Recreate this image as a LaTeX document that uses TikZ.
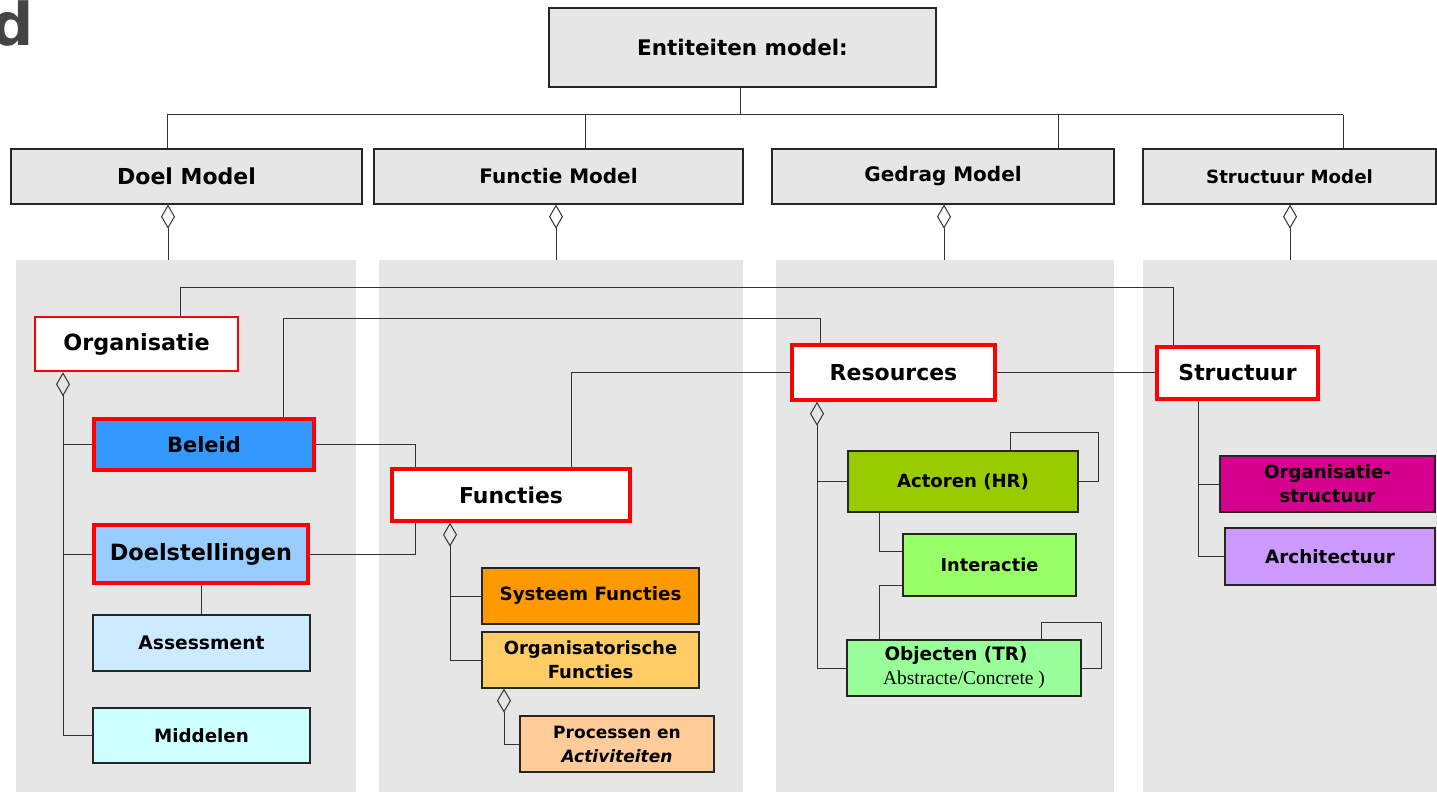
\documentclass[tikz,border=0pt]{standalone}
\usepackage{fontspec}
\setmainfont{DejaVu Sans}
\newfontfamily\tmsfont{Liberation Serif}
\usetikzlibrary{arrows.meta}

\definecolor{hdrgray}{HTML}{E6E6E6}
\definecolor{lanegray}{HTML}{E6E6E6}
\definecolor{titlegray}{HTML}{444444}
\definecolor{linegray}{HTML}{333333}
\definecolor{cBeleid}{HTML}{3399FF}
\definecolor{cDoel}{HTML}{99CCFF}
\definecolor{cAssess}{HTML}{CCEBFF}
\definecolor{cMiddel}{HTML}{CCFFFF}
\definecolor{cSysF}{HTML}{FF9900}
\definecolor{cOrgF}{HTML}{FFCC66}
\definecolor{cProc}{HTML}{FFCC99}
\definecolor{cAct}{HTML}{99CC00}
\definecolor{cInter}{HTML}{99FF66}
\definecolor{cObj}{HTML}{99FF99}
\definecolor{cOrgS}{HTML}{D6008F}
\definecolor{cArch}{HTML}{CC99FF}

\begin{document}
\begin{tikzpicture}[x=1pt,y=-1pt,
  fs/.style={font={\bfseries\fontsize{#1}{#1}\selectfont}},
  ml/.style={font={\bfseries\fontsize{#1}{24}\selectfont}},
  sz/.style 2 args={minimum width=#1pt, minimum height=#2pt},
  lane/.style={rectangle, fill=lanegray, draw=none, inner sep=0pt},
  box/.style={rectangle, draw=black!85, line width=1.3pt, inner sep=0pt, align=center, text=black},
  hdr/.style={box, fill=hdrgray},
  keybox/.style={rectangle, draw=red, line width=3.5pt, inner sep=0pt, align=center, text=black, fill=white},
  conn/.style={draw=linegray, line width=1pt},
  agg/.style={conn, {Diamond[open,length=24pt,width=14pt]}-}
]
\useasboundingbox (0,0) rectangle (1437,794);

% partial heading letter at the left edge
\node[anchor=base east, inner sep=0pt, text=titlegray,
      font={\bfseries\fontsize{59}{59}\selectfont}] (title) at (34,46) {d};

% swim lanes
\node[lane, sz={340}{532}] (lane1) at (186,526) {};
\node[lane, sz={364}{532}] (lane2) at (561,526) {};
\node[lane, sz={338}{532}] (lane3) at (945,526) {};
\node[lane, sz={294}{532}] (lane4) at (1290,526) {};

% top level and model headers
\node[hdr, sz={387}{79}, fs=21.5] (ent) at (742.5,47.5) {Entiteiten model:};
\node[hdr, sz={351}{55}, fs=22] (doel) at (186.5,176.5) {Doel Model};
\node[hdr, sz={369}{55}, fs=20] (func) at (558.5,176.5) {Functie Model};
\node[hdr, sz={342}{55}, fs=20] (gedr) at (943,176.5) {Gedrag Model};
\node[hdr, sz={293}{55}, fs=18.2] (stru) at (1289.5,176.5) {Structuur Model};

% goal model
\node[keybox, line width=2.6pt, sz={203}{54}, fs=22.3] (org) at (136.5,344) {Organisatie};
\node[keybox, fill=cBeleid, sz={220}{51}, fs=21] (bel) at (204,444.5) {Beleid};
\node[keybox, fill=cDoel, sz={214}{58}, fs=22.4] (dst) at (201,554) {Doelstellingen};
\node[box, fill=cAssess, sz={217}{56}, fs=18.7] (ass) at (201.5,643) {Assessment};
\node[box, fill=cMiddel, sz={217}{55}, fs=18.3] (mid) at (201.5,735.5) {Middelen};

% function model
\node[keybox, sz={238}{52}, fs=21.9] (fun) at (511,495) {Functies};
\node[box, fill=cSysF, sz={217}{56}, fs=18.3] (sys) at (590.5,596) {Systeem Functies};
\node[box, fill=cOrgF, sz={217}{56}, ml=18] (orgf) at (590.5,660) {Organisatorische\\Functies};
\node[box, fill=cProc, sz={194}{56}, ml=17] (proc) at (617,744) {Processen en\\\textit{Activiteiten}};

% behaviour model
\node[keybox, sz={203}{55}, fs=22] (res) at (893.5,372.5) {Resources};
\node[box, fill=cAct, sz={230}{61}, fs=18.1] (act) at (963,481.5) {Actoren (HR)};
\node[box, fill=cInter, sz={173}{62}, fs=17.8] (int) at (989.5,565) {Interactie};
\node[box, fill=cObj, sz={234}{56}, ml=18.4] (obj) at (964,668)
  {\hspace*{-16pt}Objecten (TR)\\{\tmsfont\mdseries\fontsize{19.5}{19.5}\selectfont Abstracte/Concrete )}};

% structure model
\node[keybox, sz={161}{52}, fs=21.9] (str) at (1237.5,373) {Structuur};
\node[box, fill=cOrgS, sz={215}{56}, ml=18.2] (orgs) at (1327.5,484) {Organisatie-\\structuur};
\node[box, fill=cArch, sz={210}{57}, fs=18.4] (arch) at (1330,556.5) {Architectuur};

% routing points
\coordinate (bus) at (740,115);
\coordinate (t1) at (167,115);
\coordinate (t2) at (585,115);
\coordinate (t3) at (1058,115);
\coordinate (t4) at (1343,115);
\coordinate (dm1) at (168,0);
\coordinate (dm2) at (556,0);
\coordinate (dm3) at (944,0);
\coordinate (dm4) at (1290,0);
\coordinate (o1) at (63,0);
\coordinate (k1) at (180,288);
\coordinate (k2) at (1173,288);
\coordinate (m1) at (283,318);
\coordinate (m2) at (820,318);
\coordinate (j1) at (415,0);
\coordinate (f1) at (571,0);
\coordinate (g1) at (450,0);
\coordinate (p1) at (504,0);
\coordinate (r1) at (817,0);
\coordinate (la1) at (1010,432);
\coordinate (la2) at (1098,0);
\coordinate (ia) at (879,551);
\coordinate (ib) at (879,585);
\coordinate (lo1) at (1041,622);
\coordinate (lo2) at (1101,0);
\coordinate (s1) at (1198,0);

% top bus
\draw[conn] (ent.south -| bus) -- (bus);
\draw[conn] (t1) -- (t4);
\draw[conn] (t1) -- (doel.north -| t1);
\draw[conn] (t2) -- (func.north -| t2);
\draw[conn] (t3) -- (gedr.north -| t3);
\draw[conn] (t4) -- (stru.north -| t4);

% headers to lanes
\draw[agg] (doel.south -| dm1) -- (lane1.north -| dm1);
\draw[agg] (func.south -| dm2) -- (lane2.north -| dm2);
\draw[agg] (gedr.south -| dm3) -- (lane3.north -| dm3);
\draw[agg] (stru.south -| dm4) -- (lane4.north -| dm4);

% goal model tree
\draw[agg] (org.south -| o1) |- (mid.west);
\draw[conn] (bel.west -| o1) -- (bel.west);
\draw[conn] (dst.west -| o1) -- (dst.west);
\draw[conn] (dst.south) -- (ass.north -| dst.south);

% cross links
\draw[conn] (org.north -| k1) -- (k1) -- (k2) -- (str.north -| k2);
\draw[conn] (bel.north -| m1) -- (m1) -- (m2) -- (res.north -| m2);
\draw[conn] (bel.east) -| (fun.north -| j1);
\draw[conn] (dst.east) -| (fun.south -| j1);
\draw[conn] (fun.north -| f1) |- (res.west);
\draw[conn] (res.east) -- (res.east -| str.west);

% function model tree
\draw[agg] (fun.south -| g1) |- (orgf.west);
\draw[conn] (sys.west -| g1) -- (sys.west);
\draw[agg] (orgf.south -| p1) |- (proc.west);

% behaviour model tree
\draw[agg] (res.south -| r1) |- (obj.west);
\draw[conn] (act.west -| r1) -- (act.west);
\draw[conn] (act.north -| la1) -- (la1) -| (act.east -| la2) -- (act.east);
\draw[conn] (act.south -| ia) -- (ia) -- (int.west |- ia);
\draw[conn] (int.west |- ib) -- (ib) -- (obj.north -| ib);
\draw[conn] (obj.north -| lo1) -- (lo1) -| (obj.east -| lo2) -- (obj.east);

% structure model tree
\draw[conn] (str.south -| s1) |- (arch.west);
\draw[conn] (orgs.west -| s1) -- (orgs.west);
\end{tikzpicture}
\end{document}
